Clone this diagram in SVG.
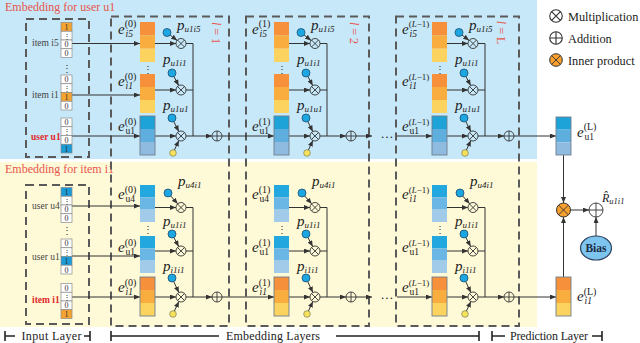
<svg xmlns="http://www.w3.org/2000/svg" xmlns:xlink="http://www.w3.org/1999/xlink" width="640" height="343" viewBox="0 0 640 343">
<defs>
<style>
.t{font-family:"Liberation Serif","Times New Roman",serif;fill:#222}
.ttl{font-size:12px;fill:#e8544c}
.lay{font-size:12px;fill:#e8544c}
.inl{font-size:9.5px;fill:#444}
.inr{font-size:9.5px;font-weight:bold;fill:#e02a2a}
.dg{font-size:8px;fill:#333;text-anchor:middle}
.vd{font-size:10px;fill:#333;text-anchor:middle}
.ev{font-size:15px;font-style:italic}
.sup{font-size:10px}
.supL{font-size:9px}
.sub{font-size:9.5px}
.it{font-style:italic}
.pv{font-size:15px;font-style:italic}
.ps{font-size:9px;font-style:italic}
.leg{font-size:12.3px}
.brk{font-size:12px}
.ln{stroke:#333;stroke-width:1;fill:none}
.la{stroke:#333;stroke-width:1;fill:none;marker-end:url(#ah)}
.dash{stroke:#5a5a5a;stroke-width:2;stroke-dasharray:8 5;fill:none}
.cell{fill:#fff;stroke:#8a8a8a;stroke-width:.7}
.c1o{fill:#f5a431;stroke:#8a8a8a;stroke-width:.7}
.c1b{fill:#1a9bd7;stroke:#8a8a8a;stroke-width:.7}
.o1{fill:#f6903a}.o2{fill:#f9ad3e}.o3{fill:#fdd35f}
.b1{fill:#1ea3d8}.b2{fill:#5eaede}.b3{fill:#8fbbe0}
.bl1{fill:#22a8de}.bl2{fill:#6ab6e4}.bl3{fill:#a2cbea}
.frame{fill:none;stroke:#6f7f8f;stroke-width:.9}
.dot{fill:#1da7e2;stroke:#1d4d70;stroke-width:.8}
.ydot{fill:#f6e35a;stroke:#7a7a5a;stroke-width:.7}
.op{fill:none;stroke:#333;stroke-width:.9}
.bar{stroke:#222;stroke-width:1.6;fill:none}
</style>
<marker id="ah" markerUnits="userSpaceOnUse" markerWidth="6" markerHeight="5" refX="6" refY="2.5" orient="auto" viewBox="0 0 6 5"><path d="M0,0L6,2.5L0,5z" fill="#333"/></marker>
<g id="mul"><circle r="5" class="op"/><path d="M-3.5,-3.5L3.5,3.5M-3.5,3.5L3.5,-3.5" class="op"/></g>
<g id="add"><circle r="5" class="op"/><path d="M-5,0H5M0,-5V5" class="op"/></g>
<g id="ublk">
<rect x="140" y="22" width="15" height="13.33" class="o1"/><rect x="140" y="35.33" width="15" height="13.34" class="o2"/><rect x="140" y="48.67" width="15" height="13.33" class="o3"/>
<rect x="140" y="74" width="15" height="13" class="o1"/><rect x="140" y="87" width="15" height="13" class="o2"/><rect x="140" y="100" width="15" height="13" class="o3"/>
<rect x="140" y="116" width="15" height="13" class="b1"/><rect x="140" y="129" width="15" height="13" class="b2"/><rect x="140" y="142" width="15" height="13" class="b3"/><rect x="140" y="116" width="15" height="39" class="frame"/>
<use xlink:href="#mul" x="181" y="43.5"/><use xlink:href="#mul" x="181" y="90"/><use xlink:href="#mul" x="181" y="136"/>
<circle cx="167" cy="32.5" r="4" class="dot"/><circle cx="172" cy="73" r="4" class="dot"/><circle cx="172" cy="118" r="4" class="dot"/><circle cx="173" cy="153" r="3.3" class="ydot"/>
<use xlink:href="#add" x="217" y="136"/>
</g>
<g id="iblk">
<rect x="140" y="185" width="15" height="12.33" class="bl1"/><rect x="140" y="197.33" width="15" height="12.34" class="bl2"/><rect x="140" y="209.67" width="15" height="12.33" class="bl3"/>
<rect x="140" y="236" width="15" height="12.33" class="bl1"/><rect x="140" y="248.33" width="15" height="12.34" class="bl2"/><rect x="140" y="260.67" width="15" height="12.33" class="bl3"/>
<rect x="140" y="277" width="15" height="13" class="o1"/><rect x="140" y="290" width="15" height="13" class="o2"/><rect x="140" y="303" width="15" height="13" class="o3"/><rect x="140" y="277" width="15" height="39" class="frame"/>
<use xlink:href="#mul" x="181" y="207.5"/><use xlink:href="#mul" x="181" y="251"/><use xlink:href="#mul" x="181" y="297"/>
<circle cx="168" cy="193" r="4" class="dot"/><circle cx="172" cy="234" r="4" class="dot"/><circle cx="172" cy="278" r="4" class="dot"/><circle cx="173" cy="314" r="3.3" class="ydot"/>
<use xlink:href="#add" x="217" y="297"/>
</g>
<g id="uconn">
<path class="la" d="M155,43.5H176"/><path class="la" d="M155,90H176"/><path class="la" d="M155,136H176"/>
<path class="ln" d="M186,43.5H193V136M186,90H193"/><path class="la" d="M186,136H212"/>
<path class="la" d="M170.1,35L177.1,40.4"/><path class="la" d="M173.9,76.5L178.7,85.6"/><path class="la" d="M173.8,121.6L178.8,131.5"/><path class="la" d="M174.4,150L178.9,140.5"/>
</g>
<g id="iconn">
<path class="la" d="M155,207.5H176"/><path class="la" d="M155,251H176"/><path class="la" d="M155,297H176"/>
<path class="ln" d="M186,207.5H193V297M186,251H193"/><path class="la" d="M186,297H212"/>
<path class="la" d="M170.7,196L177.7,203.8"/><path class="la" d="M173.9,237.5L178.7,246.6"/><path class="la" d="M173.7,281.6L178.9,292.5"/><path class="la" d="M174.4,311L178.9,301.5"/>
</g>
</defs>

<rect x="0" y="0" width="537" height="159" fill="#c7e8f8"/>
<rect x="0" y="162" width="537" height="165" fill="#fef9d7"/>
<text class="t ttl" x="5" y="11">Embedding for user u1</text>
<text class="t ttl" x="5" y="173">Embedding for item i1</text>

<g id="frames">
<rect class="dash" x="26" y="19" width="63" height="138"/>
<rect class="dash" x="26" y="185" width="63" height="139"/>
<rect class="dash" x="111" y="16.5" width="118" height="309.5"/>
<rect class="dash" x="246" y="16.5" width="123" height="309.5"/>
<rect class="dash" x="396" y="16.5" width="123" height="309.5"/>
<text class="t lay" transform="translate(212,33) rotate(90)" text-anchor="middle"><tspan class="it">l</tspan> = 1</text>
<text class="t lay" transform="translate(350,33) rotate(90)" text-anchor="middle"><tspan class="it">l</tspan> = 2</text>
<text class="t lay" transform="translate(496.5,32.5) rotate(90)" text-anchor="middle"><tspan class="it">l</tspan> = L</text>
</g>

<g id="connectors">
<path class="la" d="M72,43.5H140"/><path class="la" d="M72,95H140"/><path class="la" d="M72,136H140"/>
<path class="la" d="M72,206H140"/><path class="la" d="M72,256H140"/><path class="la" d="M72,297H140"/>
<use xlink:href="#uconn"/><use xlink:href="#uconn" x="134"/><use xlink:href="#uconn" x="292"/>
<use xlink:href="#iconn"/><use xlink:href="#iconn" x="134"/><use xlink:href="#iconn" x="292"/>
<path class="la" d="M222,136H274"/><path class="la" d="M356,136H372"/><path class="la" d="M397,136H432"/><path class="la" d="M514,136H556"/>
<path class="la" d="M222,297H274"/><path class="la" d="M356,297H372"/><path class="la" d="M397,297H432"/><path class="la" d="M514,297H556"/>
<path class="la" d="M563.5,155V203"/><path class="la" d="M563.5,277V217"/>
<path class="la" d="M570.5,210H589"/><path class="la" d="M596,236V217"/>
</g>
<text class="t" x="387" y="138" text-anchor="middle" style="font-size:13px">…</text>
<text class="t" x="387" y="299" text-anchor="middle" style="font-size:13px">…</text>

<g id="input-user">
<g id="vec-i5"><rect x="61" y="22.5" width="11" height="8.75" class="c1o"/><rect x="61" y="31.25" width="11" height="8.75" class="cell"/><rect x="61" y="40" width="11" height="8.75" class="cell"/><rect x="61" y="48.75" width="11" height="8.75" class="cell"/>
<text class="t dg" x="66.5" y="29.8">1</text><text class="t dg" x="66.5" y="38.5">⋮</text><text class="t dg" x="66.5" y="47.3">0</text><text class="t dg" x="66.5" y="56">0</text>
<text class="t inl" x="32" y="46">item i5</text></g>
<text class="t vd" x="66.5" y="72">⋮</text>
<g id="vec-i1"><rect x="61" y="75" width="11" height="8.75" class="cell"/><rect x="61" y="83.75" width="11" height="8.75" class="cell"/><rect x="61" y="92.5" width="11" height="8.75" class="c1o"/><rect x="61" y="101.25" width="11" height="8.75" class="cell"/>
<text class="t dg" x="66.5" y="82.3">0</text><text class="t dg" x="66.5" y="91">⋮</text><text class="t dg" x="66.5" y="99.8">1</text><text class="t dg" x="66.5" y="108.5">0</text>
<text class="t inl" x="32" y="97.5">item i1</text></g>
<g id="vec-u1"><rect x="61" y="118" width="11" height="8.75" class="cell"/><rect x="61" y="126.75" width="11" height="8.75" class="cell"/><rect x="61" y="135.5" width="11" height="8.75" class="cell"/><rect x="61" y="144.25" width="11" height="8.75" class="c1b"/>
<text class="t dg" x="66.5" y="125.3">0</text><text class="t dg" x="66.5" y="134">⋮</text><text class="t dg" x="66.5" y="142.8">0</text><text class="t dg" x="66.5" y="151.5">1</text>
<text class="t inr" x="31" y="139.5">user u1</text></g>
</g>

<g id="input-item">
<g id="vec-u4"><rect x="61" y="187.5" width="11" height="8.75" class="c1b"/><rect x="61" y="196.25" width="11" height="8.75" class="cell"/><rect x="61" y="205" width="11" height="8.75" class="cell"/><rect x="61" y="213.75" width="11" height="8.75" class="cell"/>
<text class="t dg" x="66.5" y="194.8">1</text><text class="t dg" x="66.5" y="203.5">⋮</text><text class="t dg" x="66.5" y="212.3">0</text><text class="t dg" x="66.5" y="221">0</text>
<text class="t inl" x="32" y="208.5">user u4</text></g>
<text class="t vd" x="66.5" y="234">⋮</text>
<g id="vec-u1b"><rect x="61" y="239" width="11" height="8.75" class="cell"/><rect x="61" y="247.75" width="11" height="8.75" class="cell"/><rect x="61" y="256.5" width="11" height="8.75" class="c1b"/><rect x="61" y="265.25" width="11" height="8.75" class="cell"/>
<text class="t dg" x="66.5" y="246.3">0</text><text class="t dg" x="66.5" y="255">⋮</text><text class="t dg" x="66.5" y="263.8">1</text><text class="t dg" x="66.5" y="272.5">0</text>
<text class="t inl" x="32" y="259.5">user u1</text></g>
<g id="vec-i1b"><rect x="61" y="283.5" width="11" height="8.75" class="cell"/><rect x="61" y="292.25" width="11" height="8.75" class="cell"/><rect x="61" y="301" width="11" height="8.75" class="cell"/><rect x="61" y="309.75" width="11" height="8.75" class="c1o"/>
<text class="t dg" x="66.5" y="290.8">0</text><text class="t dg" x="66.5" y="299.5">⋮</text><text class="t dg" x="66.5" y="308.3">0</text><text class="t dg" x="66.5" y="317">1</text>
<text class="t inr" x="32" y="303">item i1</text></g>
</g>

<g id="layer0-user"><use xlink:href="#ublk"/>
<text class="t vd" x="147.5" y="73">⋮</text>
<text class="t" x="118" y="33.5"><tspan class="ev">e</tspan><tspan class="sup" dy="-6.5">(0)</tspan><tspan class="sub it" x="125.5" dy="9.5">i5</tspan></text>
<text class="t" x="118" y="86"><tspan class="ev">e</tspan><tspan class="sup" dy="-6.5">(0)</tspan><tspan class="sub it" x="125.5" dy="9.5">i1</tspan></text>
<text class="t" x="118" y="131"><tspan class="ev">e</tspan><tspan class="sup" dy="-6.5">(0)</tspan><tspan class="sub" x="125.5" dy="9.5">u1</tspan></text>
<text class="t" x="177" y="30"><tspan class="pv">p</tspan><tspan class="ps" dy="2">u1i5</tspan></text>
<text class="t" x="163" y="64"><tspan class="pv">p</tspan><tspan class="ps" dy="2">u1i1</tspan></text>
<text class="t" x="163" y="110"><tspan class="pv">p</tspan><tspan class="ps" dy="2">u1u1</tspan></text>
</g>
<g id="layer1-user"><use xlink:href="#ublk" x="134"/>
<text class="t vd" x="281.5" y="73">⋮</text>
<text class="t" x="252" y="33.5"><tspan class="ev">e</tspan><tspan class="sup" dy="-6.5">(1)</tspan><tspan class="sub it" x="259.5" dy="9.5">i5</tspan></text>
<text class="t" x="252" y="131"><tspan class="ev">e</tspan><tspan class="sup" dy="-6.5">(1)</tspan><tspan class="sub" x="259.5" dy="9.5">u1</tspan></text>
<text class="t" x="311" y="30"><tspan class="pv">p</tspan><tspan class="ps" dy="2">u1i5</tspan></text>
<text class="t" x="297" y="64"><tspan class="pv">p</tspan><tspan class="ps" dy="2">u1i1</tspan></text>
<text class="t" x="297" y="110"><tspan class="pv">p</tspan><tspan class="ps" dy="2">u1u1</tspan></text>
</g>
<g id="layerL-user"><use xlink:href="#ublk" x="292"/>
<text class="t vd" x="439.5" y="73">⋮</text>
<text class="t" x="402" y="33.5"><tspan class="ev">e</tspan><tspan class="supL" dy="-6.5">(<tspan class="it">L</tspan>−1)</tspan><tspan class="sub it" x="409.5" dy="9.5">i5</tspan></text>
<text class="t" x="402" y="86"><tspan class="ev">e</tspan><tspan class="supL" dy="-6.5">(<tspan class="it">L</tspan>−1)</tspan><tspan class="sub it" x="409.5" dy="9.5">i1</tspan></text>
<text class="t" x="402" y="131"><tspan class="ev">e</tspan><tspan class="supL" dy="-6.5">(<tspan class="it">L</tspan>−1)</tspan><tspan class="sub" x="409.5" dy="9.5">u1</tspan></text>
<text class="t" x="469" y="30"><tspan class="pv">p</tspan><tspan class="ps" dy="2">u1i5</tspan></text>
<text class="t" x="455" y="64"><tspan class="pv">p</tspan><tspan class="ps" dy="2">u1i1</tspan></text>
<text class="t" x="455" y="110"><tspan class="pv">p</tspan><tspan class="ps" dy="2">u1u1</tspan></text>
</g>

<g id="layer0-item"><use xlink:href="#iblk"/>
<text class="t vd" x="147.5" y="233">⋮</text>
<text class="t" x="118" y="199"><tspan class="ev">e</tspan><tspan class="sup" dy="-6.5">(0)</tspan><tspan class="sub" x="125.5" dy="9.5">u4</tspan></text>
<text class="t" x="118" y="252"><tspan class="ev">e</tspan><tspan class="sup" dy="-6.5">(0)</tspan><tspan class="sub" x="125.5" dy="9.5">u1</tspan></text>
<text class="t" x="118" y="292"><tspan class="ev">e</tspan><tspan class="sup" dy="-6.5">(0)</tspan><tspan class="sub it" x="125.5" dy="9.5">i1</tspan></text>
<text class="t" x="178" y="186"><tspan class="pv">p</tspan><tspan class="ps" dy="2">u4i1</tspan></text>
<text class="t" x="163" y="226"><tspan class="pv">p</tspan><tspan class="ps" dy="2">u1i1</tspan></text>
<text class="t" x="163" y="271"><tspan class="pv">p</tspan><tspan class="ps" dy="2">i1i1</tspan></text>
</g>
<g id="layer1-item"><use xlink:href="#iblk" x="134"/>
<text class="t vd" x="281.5" y="233">⋮</text>
<text class="t" x="252" y="199"><tspan class="ev">e</tspan><tspan class="sup" dy="-6.5">(1)</tspan><tspan class="sub" x="259.5" dy="9.5">u4</tspan></text>
<text class="t" x="252" y="252"><tspan class="ev">e</tspan><tspan class="sup" dy="-6.5">(1)</tspan><tspan class="sub" x="259.5" dy="9.5">u1</tspan></text>
<text class="t" x="252" y="292"><tspan class="ev">e</tspan><tspan class="sup" dy="-6.5">(1)</tspan><tspan class="sub it" x="259.5" dy="9.5">i1</tspan></text>
<text class="t" x="312" y="186"><tspan class="pv">p</tspan><tspan class="ps" dy="2">u4i1</tspan></text>
<text class="t" x="297" y="226"><tspan class="pv">p</tspan><tspan class="ps" dy="2">u1i1</tspan></text>
<text class="t" x="297" y="271"><tspan class="pv">p</tspan><tspan class="ps" dy="2">i1i1</tspan></text>
</g>
<g id="layerL-item"><use xlink:href="#iblk" x="292"/>
<text class="t vd" x="439.5" y="233">⋮</text>
<text class="t" x="402" y="199"><tspan class="ev">e</tspan><tspan class="supL" dy="-6.5">(<tspan class="it">L</tspan>−1)</tspan><tspan class="sub it" x="409.5" dy="9.5">i1</tspan></text>
<text class="t" x="402" y="252"><tspan class="ev">e</tspan><tspan class="supL" dy="-6.5">(<tspan class="it">L</tspan>−1)</tspan><tspan class="sub" x="409.5" dy="9.5">u1</tspan></text>
<text class="t" x="402" y="292"><tspan class="ev">e</tspan><tspan class="supL" dy="-6.5">(<tspan class="it">L</tspan>−1)</tspan><tspan class="sub" x="409.5" dy="9.5">u1</tspan></text>
<text class="t" x="470" y="186"><tspan class="pv">p</tspan><tspan class="ps" dy="2">u4i1</tspan></text>
<text class="t" x="455" y="226"><tspan class="pv">p</tspan><tspan class="ps" dy="2">u1i1</tspan></text>
<text class="t" x="455" y="271"><tspan class="pv">p</tspan><tspan class="ps" dy="2">i1i1</tspan></text>
</g>

<g id="final-user">
<rect x="556" y="117" width="15" height="12.67" class="b1"/><rect x="556" y="129.67" width="15" height="12.66" class="b2"/><rect x="556" y="142.33" width="15" height="12.67" class="b3"/><rect x="556" y="117" width="15" height="38" class="frame"/>
<text class="t" x="577" y="136.5"><tspan class="ev">e</tspan><tspan class="sup" dy="-6.5">(L)</tspan><tspan class="sub" x="584.5" dy="9.5">u1</tspan></text>
</g>
<g id="final-item">
<rect x="556" y="277" width="15" height="13" class="o1"/><rect x="556" y="290" width="15" height="13" class="o2"/><rect x="556" y="303" width="15" height="13" class="o3"/><rect x="556" y="277" width="15" height="39" class="frame"/>
<text class="t" x="577" y="301"><tspan class="ev">e</tspan><tspan class="sup" dy="-6.5">(L)</tspan><tspan class="sub it" x="584.5" dy="9.5">i1</tspan></text>
</g>
<g id="inner-product">
<circle cx="563.5" cy="210" r="7" fill="#f7a030" stroke="#333" stroke-width="1"/>
<path d="M558.6,205.1L568.4,214.9M558.6,214.9L568.4,205.1" class="op"/>
</g>
<g id="sum">
<circle cx="596" cy="210" r="7" class="op"/><path d="M589,210H603M596,203V217" class="op"/>
<text class="t" x="602" y="201.5"><tspan style="font-size:12px;font-style:italic">R̂</tspan><tspan class="ps" style="font-size:8.5px" dy="2.5">u1i1</tspan></text>
</g>
<g id="bias">
<ellipse cx="596" cy="248" rx="15.5" ry="12" fill="#7dc5ee" stroke="#2b3f5a" stroke-width="1.2"/>
<text class="t" x="596" y="252" text-anchor="middle" style="font-size:11.5px;font-weight:bold;fill:#1d2b45">Bias</text>
</g>

<g id="legend">
<use xlink:href="#mul" transform="translate(556,16) scale(1.25)"/>
<text class="t leg" x="568" y="20.5">Multiplication</text>
<use xlink:href="#add" transform="translate(556,38) scale(1.25)"/>
<text class="t leg" x="568" y="42.5">Addition</text>
<circle cx="556" cy="60" r="6.3" fill="#f7a030" stroke="#333" stroke-width="1"/>
<path d="M551.5,55.5L560.5,64.5M551.5,64.5L560.5,55.5" class="op"/>
<text class="t leg" x="568" y="64.5">Inner product</text>
</g>

<g id="brackets">
<path class="bar" d="M5,331V341M5,336H15M84,336H90M90,331V341"/>
<text class="t brk" x="21.5" y="339.5" textLength="60" lengthAdjust="spacing">Input Layer</text>
<path class="bar" d="M111,331V341M111,336H219M336,336H479M479,331V341"/>
<text class="t brk" x="226" y="339.5" textLength="94" lengthAdjust="spacing">Embedding Layers</text>
<path class="bar" d="M492,331V341M492,336H505M592,336H602M602,331V341"/>
<text class="t brk" x="510" y="339.5" textLength="78" lengthAdjust="spacing">Prediction Layer</text>
</g>
</svg>
